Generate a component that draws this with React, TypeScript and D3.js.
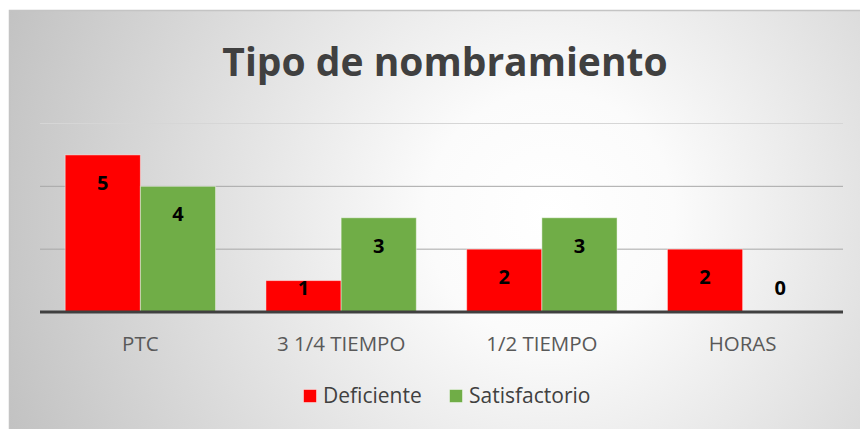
import React from "react";
import * as d3 from "d3";

const categories = ["PTC", "3 1/4 TIEMPO", "1/2 TIEMPO", "HORAS"];
const seriesNames = ["Deficiente", "Satisfactorio"];
const deficiente = [5, 1, 2, 2];
const satisfactorio = [4, 3, 3, 0];
const gridValues = [2, 4, 6];
const title = "Tipo de nombramiento";

const colors: Record<string, string> = { Deficiente: "#ff0000", Satisfactorio: "#70ad47" };
const values: Record<string, number[]> = { Deficiente: deficiente, Satisfactorio: satisfactorio };

const W = 860;
const H = 429;
const plotL = 40;
const plotR = 843;
const baseY = 312;
const topY = 123.5;

export default function App() {
  const x0 = d3.scaleBand<string>().domain(categories).range([plotL, plotR]).paddingInner(0).paddingOuter(0);
  const x1 = d3.scaleBand<string>().domain(seriesNames).range([0, x0.bandwidth()]).paddingInner(0).paddingOuter(0.335);
  const y = d3.scaleLinear().domain([0, 6]).range([baseY, topY]);
  const font = "'Open Sans', sans-serif";

  return (
    <svg width={W} height={H} style={{ position: "fixed", left: 0, top: 0 }}>
      <defs>
        <radialGradient id="bg" gradientUnits="userSpaceOnUse" cx={550} cy={215} r={620}>
          <stop offset="0" stopColor="#ffffff" />
          <stop offset="0.2" stopColor="#fbfbfb" />
          <stop offset="1" stopColor="#bdbdbd" />
        </radialGradient>
      </defs>
      <rect x={0} y={0} width={W} height={H} fill="#ffffff" />
      <rect x={9.5} y={10.5} width={W} height={H} fill="url(#bg)" stroke="#c4c4c4" strokeWidth={1.5} />
      <text x={445} y={76} textAnchor="middle" fontFamily={font} fontWeight={700} fontSize={39} fill="#404040">
        {title}
      </text>
      {gridValues.map((g) => (
        <line key={g} x1={plotL} x2={plotR} y1={y(g)} y2={y(g)} stroke={g === 6 ? "#d6d6d6" : "#a8a8a8"} strokeWidth={1} />
      ))}
      {categories.map((c, i) => (
        <g key={c} transform={`translate(${x0(c)},0)`}>
          {seriesNames.map((s) => {
            const v = values[s][i];
            const bx = x1(s)!;
            const bw = x1.bandwidth();
            const ly = Math.min(y(v) + 28, y(0) - 24);
            return (
              <g key={s}>
                {v > 0 && (
                  <rect x={bx} y={y(v)} width={bw} height={y(0) - y(v)} fill={colors[s]} stroke="#ffffff" strokeOpacity={0.45} strokeWidth={1} />
                )}
                <text x={bx + bw / 2} y={ly} dy="0.35em" textAnchor="middle" fontFamily={font} fontWeight={700} fontSize={20} fill="#000000">
                  {v}
                </text>
              </g>
            );
          })}
          <text x={x0.bandwidth() / 2} y={351} textAnchor="middle" fontFamily={font} fontSize={20.5} fill="#595959">
            {c}
          </text>
        </g>
      ))}
      <line x1={plotL} x2={plotR} y1={baseY} y2={baseY} stroke="#404040" strokeWidth={3} />
      {seriesNames.map((s, i) => {
        const lx = i === 0 ? 303 : 449;
        return (
          <g key={s}>
            <rect x={lx + 0.5} y={389.5} width={13} height={13} fill={colors[s]} stroke="#ffffff" strokeOpacity={0.45} />
            <text x={lx + 20} y={403} fontFamily={font} fontSize={21} fill="#404040">
              {s}
            </text>
          </g>
        );
      })}
    </svg>
  );
}
